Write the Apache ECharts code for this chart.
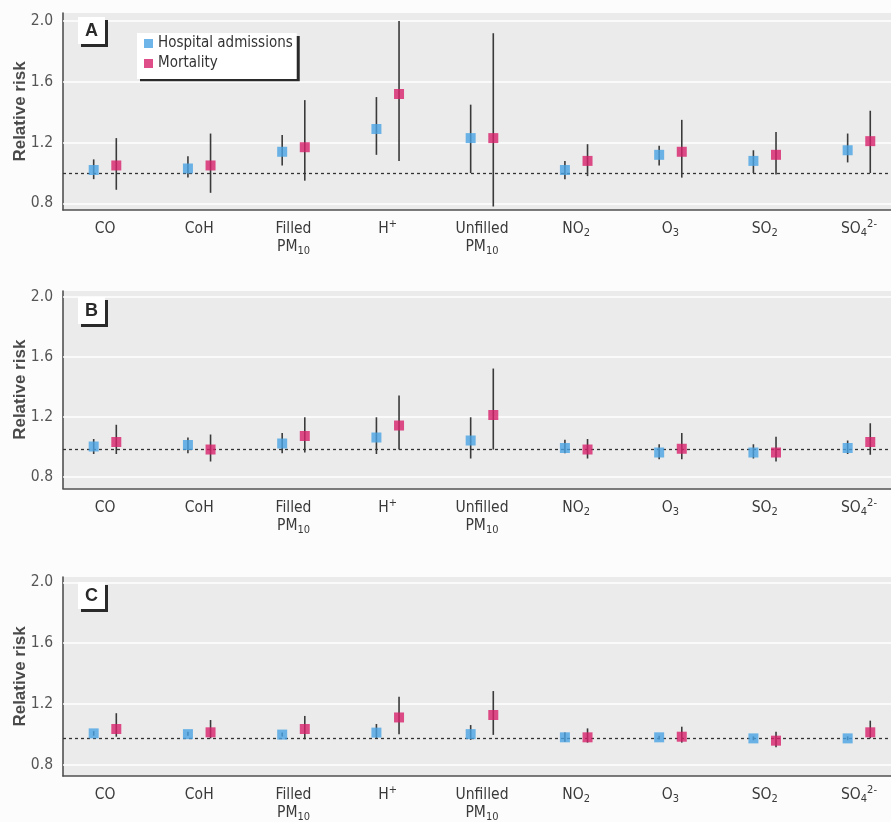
<!DOCTYPE html>
<html>
<head>
<meta charset="utf-8">
<script src="https://cdn.jsdelivr.net/npm/echarts@6/dist/echarts.min.js"></script>
<style>
html,body{margin:0;padding:0;background:#fcfcfc;}
#chart{width:891px;height:822px;}
</style>
</head>
<body>
<div id="chart"></div>
<script>
// ---- data ----
const categories = ['CO','CoH','Filled PM10','H+','Unfilled PM10','NO2','O3','SO2','SO4 2-'];
const tickLabels = ['CO','CoH','Filled\nPM{sub|10}','H{sup|+}','Unfilled\nPM{sub|10}','NO{sub|2}','O{sub|3}','SO{sub|2}','SO{sub|4}{sup|2-}'];
const yTicks = [0.8, 1.2, 1.6, 2.0];
const seriesNames = ['Hospital admissions', 'Mortality'];
const panelNames = ['A', 'B', 'C'];
const refLines = [1.0, 0.98, 0.968];

// Panel A
const aHospital     = [1.02, 1.03, 1.14, 1.29, 1.23, 1.02, 1.12, 1.08, 1.15];
const aHospitalLow  = [0.96, 0.97, 1.05, 1.12, 1.00, 0.96, 1.05, 1.00, 1.07];
const aHospitalHigh = [1.09, 1.11, 1.25, 1.50, 1.45, 1.08, 1.18, 1.15, 1.26];
const aMortality     = [1.05, 1.05, 1.17, 1.52, 1.23, 1.08, 1.14, 1.12, 1.21];
const aMortalityLow  = [0.89, 0.87, 0.95, 1.08, 0.78, 0.98, 0.97, 0.99, 1.00];
const aMortalityHigh = [1.23, 1.26, 1.48, 2.00, 1.92, 1.19, 1.35, 1.27, 1.41];

// Panel B
const bHospital     = [1.00, 1.01, 1.02, 1.06, 1.04, 0.99, 0.96, 0.96, 0.99];
const bHospitalLow  = [0.95, 0.955, 0.955, 0.95, 0.92, 0.955, 0.915, 0.92, 0.95];
const bHospitalHigh = [1.05, 1.06, 1.09, 1.195, 1.195, 1.045, 1.015, 1.015, 1.04];
const bMortality     = [1.03, 0.98, 1.07, 1.14, 1.21, 0.98, 0.985, 0.96, 1.03];
const bMortalityLow  = [0.95, 0.90, 0.96, 0.98, 0.98, 0.92, 0.915, 0.90, 0.945];
const bMortalityHigh = [1.145, 1.08, 1.195, 1.34, 1.52, 1.05, 1.09, 1.065, 1.155];

// Panel C
const cHospital     = [1.005, 1.00, 0.997, 1.01, 1.00, 0.979, 0.979, 0.972, 0.972];
const cHospitalLow  = [0.99, 0.99, 0.985, 0.972, 0.962, 0.95, 0.965, 0.96, 0.96];
const cHospitalHigh = [1.02, 1.015, 1.01, 1.067, 1.06, 1.01, 0.99, 0.985, 0.985];
const cMortality     = [1.034, 1.012, 1.034, 1.11, 1.126, 0.979, 0.983, 0.957, 1.012];
const cMortalityLow  = [0.983, 0.972, 0.966, 1.00, 0.995, 0.944, 0.944, 0.913, 0.972];
const cMortalityHigh = [1.138, 1.093, 1.12, 1.247, 1.284, 1.038, 1.049, 1.016, 1.089];

// ---- layout / style ----
const FONT = "'Liberation Sans Narrow','DejaVu Sans Condensed','Liberation Sans',sans-serif";
const BOLD = "'Liberation Sans','DejaVu Sans',sans-serif";
const BLUE = '#4aa4e4';
const PINK = '#d8226c';
const OFFSET = 0.12;
const panels = [
  {top: 13, height: 197, min: 0.757, max: 2.053, titleTop: 17,
   h: aHospital, hl: aHospitalLow, hh: aHospitalHigh, m: aMortality, ml: aMortalityLow, mh: aMortalityHigh},
  {top: 291, height: 197.5, min: 0.72, max: 2.037, titleTop: 297,
   h: bHospital, hl: bHospitalLow, hh: bHospitalHigh, m: bMortality, ml: bMortalityLow, mh: bMortalityHigh},
  {top: 577, height: 199, min: 0.724, max: 2.036, titleTop: 582,
   h: cHospital, hl: cHospitalLow, hh: cHospitalHigh, m: cMortality, ml: cMortalityLow, mh: cMortalityHigh}
];
const xMin = -0.4456, xMax = 8.34;

const grids = [], xAxes = [], yAxes = [], series = [], titles = [];
panels.forEach((p, gi) => {
  grids.push({left: 63, right: 0, top: p.top, height: p.height, show: true,
    outerBoundsMode: 'none', containLabel: false,
    backgroundColor: '#ebebeb', borderWidth: 0});
  xAxes.push({type: 'value', gridIndex: gi, min: xMin, max: xMax,
    axisLine: {show: true, onZero: false, lineStyle: {color: '#505050', width: 1.6}},
    axisTick: {show: false}, splitLine: {show: false},
    axisLabel: {customValues: categories.map((c, i) => i), margin: 10,
      formatter: v => tickLabels[Math.round(v)],
      fontFamily: FONT, fontSize: 15.5, color: '#3a3a3a', lineHeight: 18,
      rich: {
        sub: {fontFamily: FONT, fontSize: 11, color: '#3a3a3a', padding: [9, 0, 0, 0]},
        sup: {fontFamily: FONT, fontSize: 11, color: '#3a3a3a', padding: [0, 0, 9, 0]}
      }}
  });
  yAxes.push({type: 'value', gridIndex: gi, min: p.min, max: p.max,
    name: 'Relative risk', nameLocation: 'middle', nameGap: 34, nameRotate: 90,
    nameMoveOverlap: false,
    nameTextStyle: {fontFamily: BOLD, fontWeight: 'bold', fontSize: 17, color: '#4a4a4a'},
    axisLine: {show: true, onZero: false, lineStyle: {color: '#505050', width: 1.6}},
    axisTick: {show: false}, splitLine: {show: false},
    axisLabel: {customValues: yTicks, margin: 10, formatter: v => v.toFixed(1),
      fontFamily: FONT, fontSize: 15.5, color: '#555'}
  });
  // gridlines
  series.push({type: 'line', xAxisIndex: gi, yAxisIndex: gi, data: [], silent: true,
    markLine: {silent: true, symbol: 'none', label: {show: false}, animation: false,
      lineStyle: {color: '#ffffff', width: 1.6, type: 'solid'},
      data: yTicks.map(v => ({yAxis: v}))}
  });
  // reference line
  series.push({type: 'line', xAxisIndex: gi, yAxisIndex: gi, data: [], silent: true,
    markLine: {silent: true, symbol: 'none', label: {show: false}, animation: false,
      lineStyle: {color: '#333', width: 1.3, type: [3, 3]},
      data: [{yAxis: refLines[gi]}]}
  });
  // error bars
  const bars = [];
  categories.forEach((c, i) => {
    bars.push([i - OFFSET, p.hl[i], p.hh[i]]);
    bars.push([i + OFFSET, p.ml[i], p.mh[i]]);
  });
  series.push({type: 'custom', xAxisIndex: gi, yAxisIndex: gi, z: 6, silent: true,
    data: bars,
    renderItem: (params, api) => {
      const lo = api.coord([api.value(0), api.value(1)]);
      const hi = api.coord([api.value(0), api.value(2)]);
      return {type: 'line', shape: {x1: lo[0], y1: lo[1], x2: hi[0], y2: hi[1]},
        style: {stroke: '#3a3a3a', lineWidth: 1.6}};
    }
  });
  series.push({type: 'scatter', name: seriesNames[0], xAxisIndex: gi, yAxisIndex: gi, z: 7,
    symbol: 'rect', symbolSize: 10, itemStyle: {color: BLUE},
    data: p.h.map((v, i) => [i - OFFSET, v])});
  series.push({type: 'scatter', name: seriesNames[1], xAxisIndex: gi, yAxisIndex: gi, z: 7,
    symbol: 'rect', symbolSize: 10, itemStyle: {color: PINK},
    data: p.m.map((v, i) => [i + OFFSET, v])});
  titles.push({text: panelNames[gi], left: 78, top: p.titleTop, padding: [5, 7, 4, 7],
    backgroundColor: '#ffffff', shadowColor: '#2a2a2a', shadowBlur: 0, shadowOffsetX: 3, shadowOffsetY: 3,
    textStyle: {fontFamily: BOLD, fontWeight: 'bold', fontSize: 18, color: '#2a2a2a'}});
});

const chart = echarts.init(document.getElementById('chart'), null, {renderer: 'canvas'});
chart.setOption({
  animation: false,
  backgroundColor: '#fcfcfc',
  title: titles,
  legend: {data: seriesNames, orient: 'vertical', left: 137, top: 33,
    icon: 'rect', itemWidth: 9, itemHeight: 9, itemGap: 3,
    padding: [2, 4, 7, 7], backgroundColor: '#ffffff',
    shadowColor: '#2a2a2a', shadowBlur: 0, shadowOffsetX: 3, shadowOffsetY: 3,
    textStyle: {fontFamily: FONT, fontSize: 15, color: '#333', lineHeight: 17}},
  grid: grids, xAxis: xAxes, yAxis: yAxes, series: series
});
</script>
</body>
</html>
